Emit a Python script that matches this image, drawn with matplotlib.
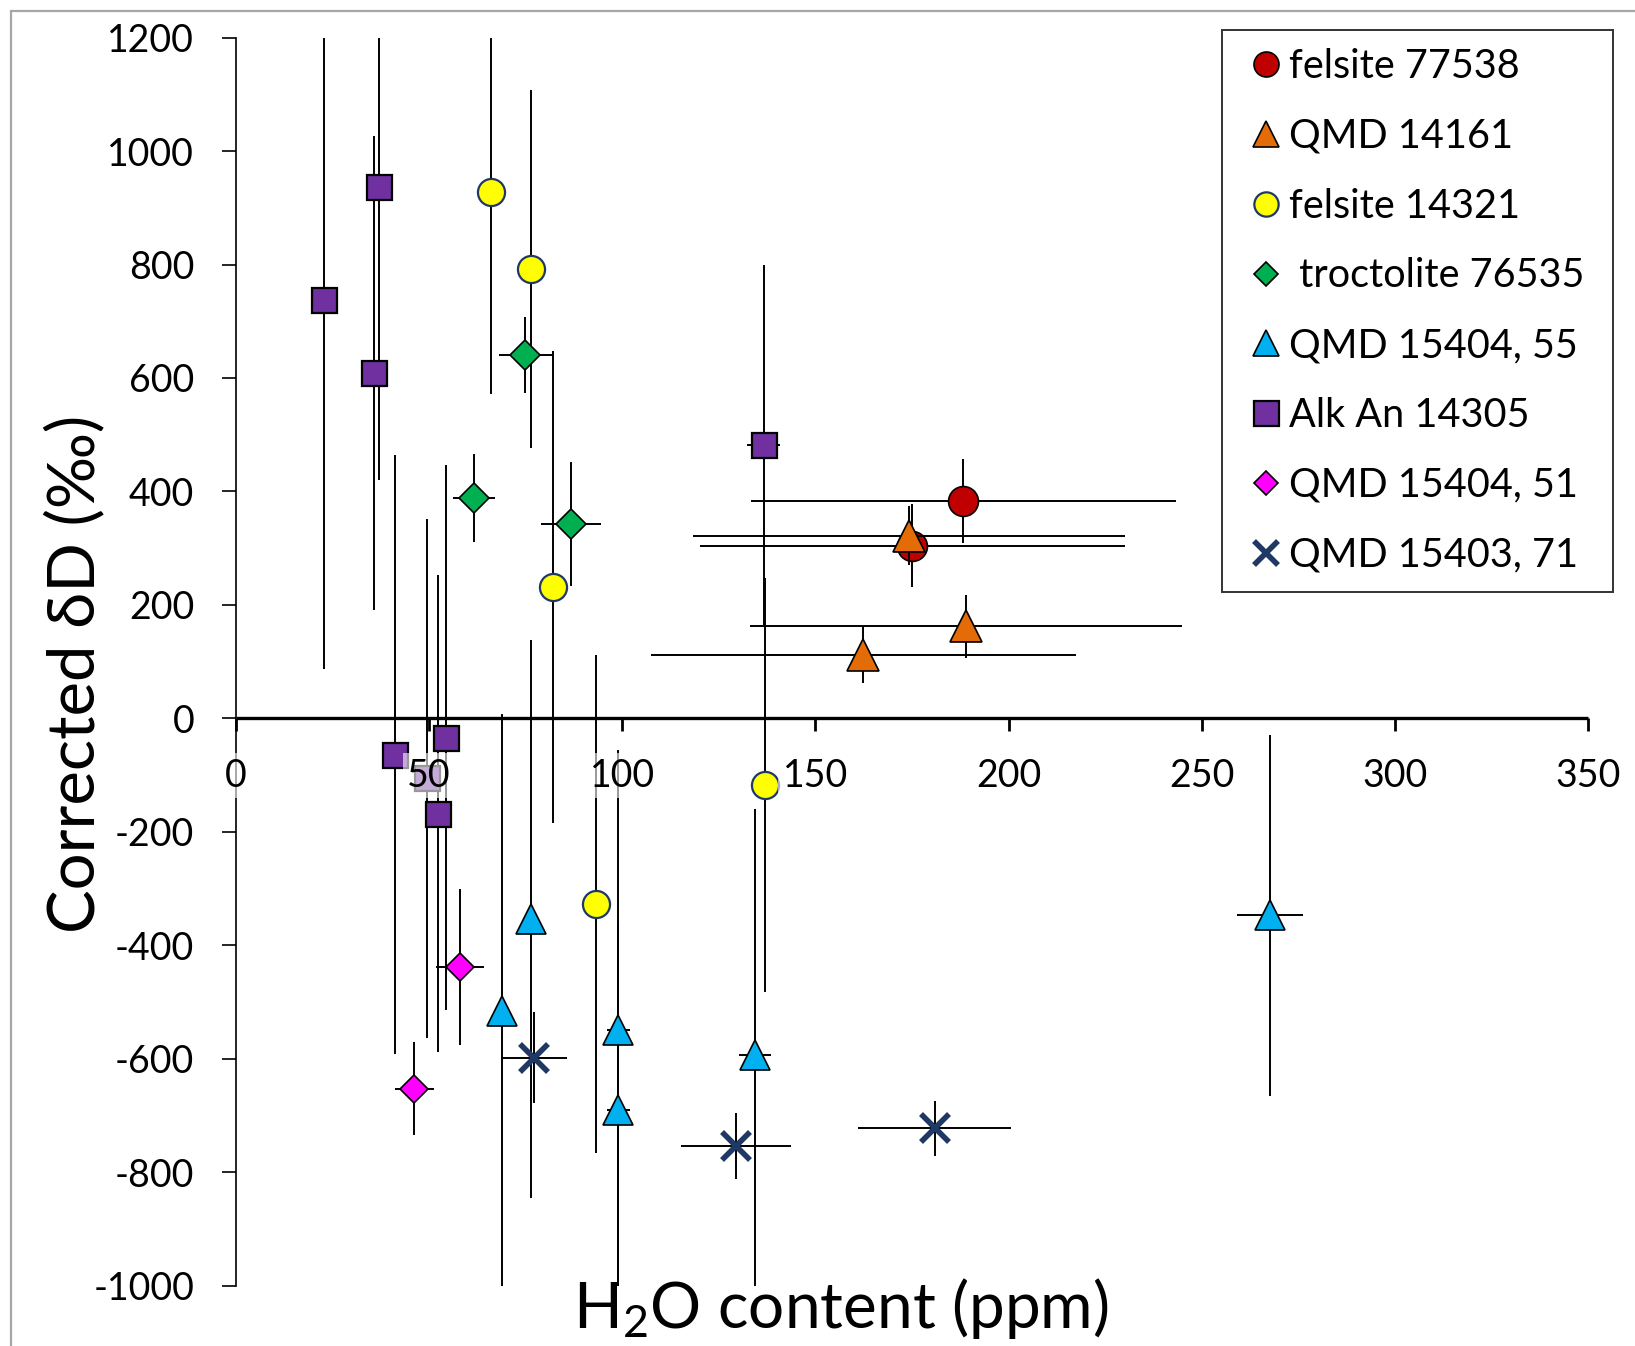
import matplotlib
matplotlib.use("Agg")
import matplotlib.pyplot as plt
from matplotlib.lines import Line2D
from matplotlib.patches import Rectangle

plt.rcParams['font.family'] = ['Lato', 'DejaVu Sans']
plt.rcParams['mathtext.default'] = 'regular'
plt.rcParams['axes.unicode_minus'] = False

# ---------------- data ----------------
# felsite 77538
fel775_x = [188.3, 175.1]
fel775_y = [383, 304]
fel775_xerr = [55, 55]
fel775_yerr = [74, 73]

# QMD 14161
qmd14161_x = [174.2, 189.0, 162.4]
qmd14161_y = [322, 162, 112]
qmd14161_xerr = [56, 56, 55]
qmd14161_yerr = [52, 55, 50]

# felsite 14321
fel143_x = [66.0, 76.4, 82.1, 93.3, 137.0]
fel143_y = [927, 792, 231, -327, -117]
fel143_xerr = [0, 0, 0, 0, 0]
fel143_yerr = [356, 316, 416, 439, 365]

# troctolite 76535
troc_x = [74.9, 61.6, 86.7]
troc_y = [640, 388, 342]
troc_xerr = [6.9, 5.4, 7.8]
troc_yerr = [67, 78, 109]

# QMD 15404, 55
q55_x = [76.4, 68.9, 99.0, 99.0, 134.3, 267.6]
q55_y = [-354, -516, -550, -690, -594, -347]
q55_xerr = [0, 0, 3, 3, 4.2, 8.5]
q55_yerr = [492, 523, 494, 330, 434, 318]

# Alk An 14305
alk_x = [22.75, 37.1, 35.75, 136.6, 41.2, 54.4, 49.4, 52.4]
alk_y = [737, 936, 609, 482, -64, -34, -106, -168]
alk_xerr = [0, 0, 0, 4.2, 0, 0, 0, 0]
alk_yerr = [650, 515, 418, 318, 528, 481, 458, 420]

# QMD 15404, 51
q51_x = [58.1, 46.2]
q51_y = [-438, -653]
q51_xerr = [6.2, 5]
q51_yerr = [137, 82]

# QMD 15403, 71
q71_x = [77.1, 129.5, 180.9]
q71_y = [-598, -754, -723]
q71_xerr = [8.5, 14.2, 19.8]
q71_yerr = [80, 58, 49]

labels = ["felsite 77538", "QMD 14161", "felsite 14321", " troctolite 76535",
          "QMD 15404, 55", "Alk An 14305", "QMD 15404, 51", "QMD 15403, 71"]
xticks = [0, 50, 100, 150, 200, 250, 300, 350]
yticks = [-1000, -800, -600, -400, -200, 0, 200, 400, 600, 800, 1000, 1200]

# ---------------- styles ----------------
styles = [
    dict(marker='o', ms=21.5, mfc='#C00000', mec='black', mew=1.2),
    dict(marker='^', ms=23.5, mfc='#E36C09', mec='black', mew=1.2),
    dict(marker='o', ms=19.5, mfc='#FFFF00', mec='#1F3864', mew=1.6),
    dict(marker='D', ms=15, mfc='#00B050', mec='black', mew=1.2),
    dict(marker='^', ms=22, mfc='#00B0F0', mec='black', mew=1.2),
    dict(marker='s', ms=18, mfc='#7030A0', mec='black', mew=1.6),
    dict(marker='D', ms=14, mfc='#FF00FF', mec='black', mew=1.2),
    dict(marker='x', ms=20.5, mfc='#1F3864', mec='#1F3864', mew=4.0),
]
legend_ms = [18, 19, 17.5, 12.5, 19, 18, 12.5, 17]

series = [
    (fel775_x, fel775_y, fel775_xerr, fel775_yerr),
    (qmd14161_x, qmd14161_y, qmd14161_xerr, qmd14161_yerr),
    (fel143_x, fel143_y, fel143_xerr, fel143_yerr),
    (troc_x, troc_y, troc_xerr, troc_yerr),
    (q55_x, q55_y, q55_xerr, q55_yerr),
    (alk_x, alk_y, alk_xerr, alk_yerr),
    (q51_x, q51_y, q51_xerr, q51_yerr),
    (q71_x, q71_y, q71_xerr, q71_yerr),
]

fig = plt.figure(figsize=(16.35, 13.46), dpi=100)
ax = fig.add_axes([236 / 1635, 1 - 1285.6 / 1346, 1352 / 1635, (1285.6 - 37.6) / 1346])

for i, ((x, y, xe, ye), st) in enumerate(zip(series, styles)):
    ax.errorbar(x, y, xerr=xe, yerr=ye, fmt='none', ecolor='black',
                elinewidth=1.4, capsize=0, zorder=2 + i * 0.1)
    ax.plot(x, y, linestyle='none', zorder=2.05 + i * 0.1, **st)

ax.set_xlim(0, 350)
ax.set_ylim(-1000, 1200)
ax.set_xticks(xticks)
ax.set_yticks(yticks)
ax.set_xticklabels([str(v) for v in xticks])
ax.set_yticklabels([str(v) for v in yticks])

for s in ['top', 'right']:
    ax.spines[s].set_visible(False)
ax.spines['bottom'].set_position(('data', 0))
ax.spines['bottom'].set_linewidth(2.4)
ax.spines['left'].set_linewidth(1.2)
ax.spines['bottom'].set_capstyle('butt')

ax.tick_params(axis='y', direction='out', length=10, width=1.2, pad=20, labelsize=27)
ax.tick_params(axis='x', direction='out', length=9.5, width=2.0, pad=19, labelsize=27)

for lbl in ax.get_xticklabels():
    lbl.set_bbox(dict(boxstyle='square,pad=0.12', facecolor='white',
                      edgecolor='none', alpha=0.6))
ax.xaxis.set_zorder(10)

ax.set_xlabel('H$_2$O content (ppm)', fontsize=46)
ax.xaxis.set_label_coords(0.4475, -0.034)
ax.xaxis.label.set_va('baseline')
ax.set_ylabel('Corrected δD (‰)', fontsize=47)
ax.yaxis.set_label_coords(-0.119, 0.49)
ax.yaxis.label.set_va('center')

handles = [Line2D([], [], linestyle='none', **{**st, 'ms': m}) for st, m in zip(styles, legend_ms)]
leg = fig.legend(handles, labels, loc='upper left',
                 bbox_to_anchor=(1222 / 1635, 1 - 30 / 1346, (1613 - 1222) / 1635, 0.0),
                 mode='expand', borderaxespad=0, fontsize=28.5, frameon=True, fancybox=False,
                 edgecolor='black', borderpad=0.45, labelspacing=0.83, handlelength=1.33,
                 handletextpad=-0.1)
leg.get_frame().set_linewidth(1.4)

fig.patches.append(Rectangle((11 / 1635, -0.05), 1.2, 1.05 - 11 / 1346,
                             transform=fig.transFigure, fill=False,
                             edgecolor='#A6A6A6', linewidth=1.6, zorder=0))

fig.savefig('out.png', dpi=100, facecolor='white')
